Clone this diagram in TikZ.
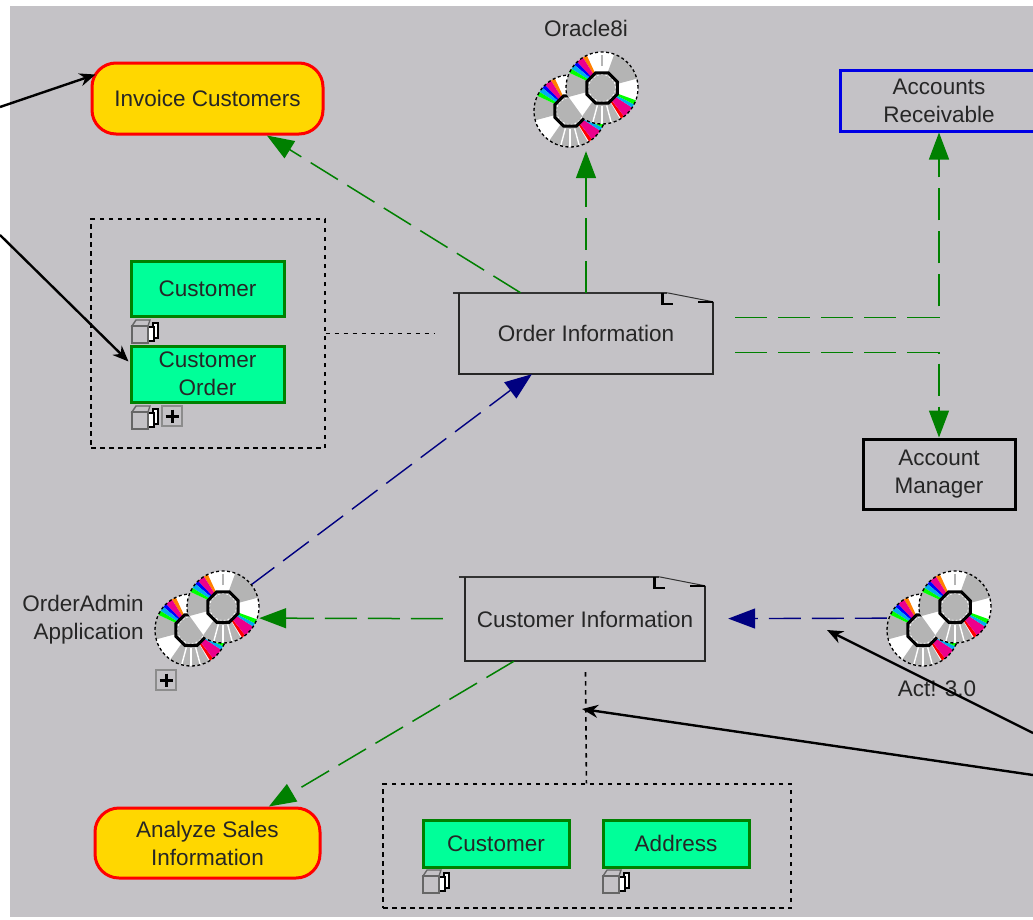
\documentclass[tikz,border=0pt]{standalone}
\usepackage{fontspec}
\setmainfont{Liberation Sans}
\usetikzlibrary{arrows.meta}
\definecolor{canvasgray}{HTML}{C4C2C6}
\definecolor{discgray}{HTML}{B4B4B4}
\definecolor{entitygreen}{HTML}{00FF99}
\definecolor{activitygold}{HTML}{FFD700}
\definecolor{flowgreen}{HTML}{008000}
\definecolor{flownavy}{HTML}{000080}
\tikzset{
	label text/.style={font=\fontsize{22.5}{28}\selectfont, text=black!85, align=center},
	activity/.style={label text, draw=red, fill=activitygold, line width=3pt, rounded corners=24pt, inner sep=0pt},
	entity/.style={label text, draw=green!50!black, fill=entitygreen, line width=3pt, inner sep=0pt},
	actor/.style={label text, draw=black, line width=3pt, inner sep=0pt},
	note/.style={label text, inner sep=0pt},
	group/.style={draw=black, line width=1.4pt, dash pattern=on 4.5pt off 4.5pt, inner sep=0pt},
	discspot/.style={circle, inner sep=0pt, minimum size=104pt},
	greenflow/.style={draw=flowgreen, line width=1.5pt, dash pattern=on 32pt off 11pt, -{Triangle[length=27pt,width=20pt,fill=flowgreen]}},
	navyflow/.style={draw=flownavy, line width=1.4pt, dash pattern=on 32pt off 11pt, -{Triangle[length=27pt,width=20pt,fill=flownavy]}},
	dotlink/.style={draw=black, line width=1.6pt, dash pattern=on 4.5pt off 4.5pt},
	callout/.style={draw=black, line width=2.4pt, -{Stealth[length=16pt,width=13pt]}},
	cdrom/.pic={
		\cddisc{-16}{12}
		\begin{scope}
			\clip (-31.9,-22.4) -- (14.9,42.7) -- (62,42.7) -- (62,-60) -- (-31.9,-60) -- cycle;
			\cddisc{16}{-11}
		\end{scope}
	},
	stackicon/.pic={
		\draw[draw=black, fill=white, line width=1.2pt] (8,-9) rectangle (13,6);
		\draw[draw=black, fill=white, line width=1.2pt] (3,-5) rectangle (9,9);
		\draw[draw=black!60, fill=canvasgray, line width=1.4pt] (-13,-6) -- (-9,-12) -- (5,-12) -- (3,-6) -- cycle;
		\draw[draw=black!60, fill=canvasgray, line width=1.4pt] (-13,-6) rectangle (3,11);
	},
	plusicon/.pic={
		\draw[draw=black!45, fill=canvasgray, line width=1.4pt] (-10,-10) rectangle (10,10);
		\draw[draw=black, line width=3pt] (-6.5,0) -- (6.5,0) (0,-6.5) -- (0,6.5);
	},
}
% one disc, angles counted the usual way round
\newcommand{\cddisc}[2]{
	\begin{scope}[shift={(#1,#2)}, x=1pt, y=1pt]
		\fill[white] (0,0) circle (36pt);
		\foreach \a/\b/\c in {155/195/discgray, 15/70/discgray, 235/300/discgray,
			115/122/orange, 122/134/magenta, 134/140/blue, 140/148/cyan, 148/155/green,
			302/308/red, 308/327/magenta, 327/333/cyan, 333/340/green}
			\fill[\c] (0,0) -- (\a:36pt) arc (\a:\b:36pt) -- cycle;
		\foreach \a in {255,270,285}
			\draw[white, line width=1.4pt] (\a:18pt) -- (\a:36pt);
		\draw[discgray, line width=1.8pt] (90:22pt) -- (90:33pt);
		\draw[black, line width=1.3pt, dash pattern=on 3pt off 2.5pt] (0,0) circle (36pt);
		\fill[discgray] (0,0) circle (16pt);
		\draw[white, line width=.8pt, dash pattern=on 2pt off 2pt] (0,0) circle (13.5pt);
		\draw[black, line width=3pt] (22.5:16.5pt) -- (67.5:16.5pt) -- (112.5:16.5pt) -- (157.5:16.5pt) -- (202.5:16.5pt) -- (247.5:16.5pt) -- (292.5:16.5pt) -- (337.5:16.5pt) -- cycle;
	\end{scope}
}
% folded sheet outline round a note node
\newcommand{\drawnote}[1]{
	\draw[black!80, line width=1.5pt] ([xshift=-6pt]#1.north west) -- ([xshift=-46pt]#1.north east);
	\draw[black!85, line width=1.5pt] (#1.north west) -- (#1.south west) -- (#1.south east) -- ([yshift=-9pt]#1.north east);
	\draw[black, line width=2.6pt] ([xshift=-51pt]#1.north east) -- ([xshift=-51pt,yshift=-11pt]#1.north east) -- ([xshift=-40pt,yshift=-11pt]#1.north east);
	\draw[black!80, line width=1pt] ([xshift=-46pt]#1.north east) -- ([yshift=-9pt]#1.north east);
	\draw[black, line width=2pt] ([xshift=-15pt,yshift=-9pt]#1.north east) -- ([yshift=-9pt]#1.north east);
}
\begin{document}
\begin{tikzpicture}[x=1pt,y=-1pt]
	\useasboundingbox (0,0) rectangle (1033,919);
	\fill[canvasgray] (10,6) rectangle (1033,917);

	\node (Invoice) at (207.5, 98.5)	[activity, minimum width=231pt, minimum height=71pt]	{Invoice Customers};
	\node (Analyze) at (207.5, 843)	[activity, minimum width=225pt, minimum height=70pt]	{Analyze Sales\\Information};
	\node (Receivable) at (939, 100.5)	[actor, draw=blue!90!black, minimum width=198pt, minimum height=61pt]	{Accounts\\Receivable};
	\node (Manager) at (939, 474)	[actor, minimum width=152pt, minimum height=70pt]	{Account\\Manager};
	\node (GroupOrder) at (208, 333.5)	[group, minimum width=234pt, minimum height=229pt]	{};
	\node (GroupCustomer) at (587, 846)	[group, minimum width=408pt, minimum height=124pt]	{};
	\node (Customer) at (207.5, 288.5)	[entity, minimum width=153pt, minimum height=55pt]	{Customer};
	\node (CustomerOrder) at (207.5, 374)	[entity, minimum width=153pt, minimum height=56pt]	{Customer\\Order};
	\node (CustomerB) at (496, 843.5)	[entity, minimum width=146pt, minimum height=47pt]	{Customer};
	\node (Address) at (676, 843.5)	[entity, minimum width=146pt, minimum height=47pt]	{Address};
	\node (OrderInfo) at (586, 333.5)	[note, minimum width=254pt, minimum height=81pt]	{Order Information};
	\node (CustomerInfo) at (585, 619)	[note, minimum width=240pt, minimum height=84pt]	{Customer Information};
	\node (Oracle) at (586, 99)	[discspot]	{};
	\node (OrderAdmin) at (207, 618)	[discspot]	{};
	\node (Act) at (939, 618)	[discspot]	{};
	\node (OracleLabel) at (586, 28)	[label text]	{Oracle8i};
	\node (OrderAdminLabel) at (83, 620)	[label text, align=right]	{OrderAdmin\\Application};
	\node (ActLabel) at (937, 689)	[label text]	{Act! 3.0};
	\coordinate (CalloutA) at (0, 107);
	\coordinate (CalloutB) at (0, 235);
	\coordinate (CalloutC) at (1033, 733);
	\coordinate (CalloutD) at (1033, 775);
	\coordinate (FlowSpot) at (827, 630);
	\coordinate (DotSpot) at (582, 709);

	\drawnote{OrderInfo}
	\drawnote{CustomerInfo}

	\draw[greenflow] (OrderInfo) -- (Invoice);
	\draw[greenflow] (OrderInfo) -- (Oracle);
	\draw[greenflow] ([shift={(22,-16)}]OrderInfo.east) -| (Receivable);
	\draw[greenflow] ([shift={(22,19)}]OrderInfo.east) -| (Manager);
	\draw[navyflow] (OrderAdmin) -- (OrderInfo);
	\draw[greenflow, shorten <=22pt] (CustomerInfo) -- (OrderAdmin);
	\draw[greenflow] (CustomerInfo) -- (Analyze);
	\draw[navyflow, shorten >=23pt] (Act) -- (CustomerInfo);
	\draw[dotlink, shorten >=24pt] (GroupOrder) -- (OrderInfo);
	\draw[dotlink, shorten <=11pt] (CustomerInfo) -- (GroupCustomer);

	\pic at (Oracle) {cdrom};
	\pic at (OrderAdmin) {cdrom};
	\pic at (Act) {cdrom};
	\pic at (145, 332) {stackicon};
	\pic at (145, 418) {stackicon};
	\pic at (436, 882) {stackicon};
	\pic at (616, 882) {stackicon};
	\pic at (172, 416) {plusicon};
	\pic at (166, 680) {plusicon};

	\draw[callout] (CalloutA) -- ([shift={(5,13)}]Invoice.north west);
	\draw[callout] (CalloutB) -- ([shift={(-1,17)}]CustomerOrder.north west);
	\draw[callout] (CalloutC) -- (FlowSpot);
	\draw[callout] (CalloutD) -- (DotSpot);
\end{tikzpicture}
\end{document}
